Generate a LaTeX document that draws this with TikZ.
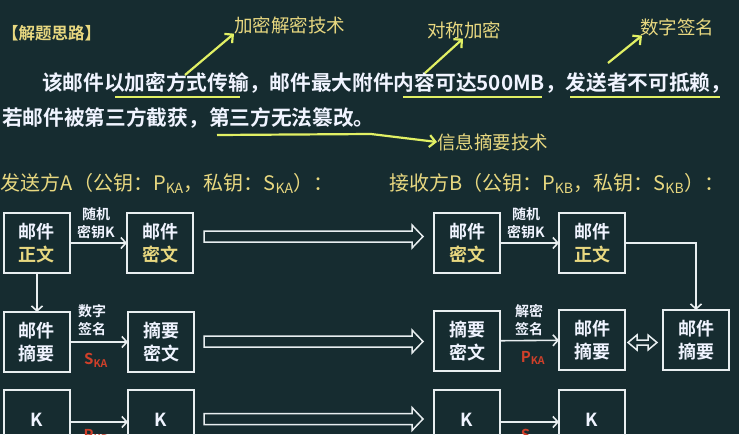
\documentclass[tikz,border=0pt]{standalone}
\usepackage{fontspec}
\setmainfont{Noto Sans CJK SC}[BoldFont={* Bold}]
\usetikzlibrary{arrows.meta}

\definecolor{bg}{RGB}{22,44,48}
\definecolor{txtw}{RGB}{240,244,255}
\definecolor{txty}{RGB}{232,216,128}
\definecolor{hl}{RGB}{225,240,100}
\definecolor{boxc}{RGB}{232,238,240}
\definecolor{keyred}{RGB}{208,64,42}

\newcommand\fsz[2]{\fontsize{#1}{#2}\selectfont}

\tikzset{
  every node/.style={inner sep=0pt, outer sep=0pt},
  mailbox/.style={draw=boxc, line width=1.8pt, minimum width=66, minimum height=60,
    align=center, text=txtw, font=\fsz{18}{23}\bfseries},
  flow/.style={draw=boxc, line width=1.6pt, -{Straight Barb[length=5pt,width=11pt,line width=1.6pt]}},
  tiny/.style={align=center, text=txtw, font=\fsz{14}{17.5}\bfseries},
  keylbl/.style={text=keyred, font=\fsz{15}{18}\bfseries},
  note/.style={anchor=west, text=txty, font=\fsz{18.5}{22}},
  hlline/.style={draw=hl, line width=2.2pt},
  pointer/.style={draw=hl, line width=2.2pt, -{Straight Barb[length=6pt,width=12pt,line width=2.2pt]}},
  hollow/.style={draw=boxc, line width=1.5pt, fill=bg, line join=miter},
}

\begin{document}
\begin{tikzpicture}[x=1pt,y=-1pt]
\fill[bg] (0,0) rectangle (739,434);
\useasboundingbox (0,0) rectangle (739,434);
\clip (0,0) rectangle (739,434);

% heading and question text
\node[anchor=west, text=txty, font=\fsz{16.5}{19}\bfseries] (head) at (2,33) {【解题思路】};
\node[anchor=west, text=txtw, font=\fsz{20.7}{26}\bfseries] (line1) at (42,83)
  {该邮件以加密方式传输，邮件最大附件内容可达500MB，发送者不可抵赖，};
\node[anchor=west, text=txtw, font=\fsz{20.7}{26}\bfseries] (line2) at (2,118)
  {若邮件被第三方截获，第三方无法篡改。};

% underlines and pointers to the techniques
\draw[hlline] (115,97) -- (240,97);
\draw[hlline] (403,97) -- (542,97);
\draw[hlline] (570,97) -- (720,97);

\node[note] (tech1) at (234,25) {加密解密技术};
\node[note] (tech2) at (427,30) {对称加密};
\node[note] (tech3) at (640,27) {数字签名};
\node[note] (tech4) at (437,142) {信息摘要技术};

\coordinate (p1) at (185,75);
\coordinate (p2) at (425,73);
\coordinate (p3) at (608,63);
\coordinate (u4a) at (217,135);
\coordinate (u4b) at (371,134);
\draw[pointer] (p1) -- (tech1.south west);
\draw[pointer] (p2) -- ([xshift=36]tech2.south west);
\draw[pointer] (p3) -- ([xshift=2]tech3.south west);
\draw[pointer] (u4a) -- (u4b) -- (tech4.west);

% party headings
\node[anchor=west, text=txty, font=\fsz{20}{23}] (sender) at (1,183)
  {发送方A（公钥：P\textsubscript{KA}，私钥：S\textsubscript{KA}）：};
\node[anchor=west, text=txty, font=\fsz{20}{23}] (receiver) at (389,183)
  {接收方B（公钥：P\textsubscript{KB}，私钥：S\textsubscript{KB}）：};

% sender side
\node[mailbox] (A1) at (37,243) {邮件\\\textcolor{txty}{正文}};
\node[mailbox] (A2) at (160,243) {邮件\\\textcolor{txty}{密文}};
\node[mailbox] (A3) at (37,342) {邮件\\摘要};
\node[mailbox] (A4) at (161,342) {摘要\\密文};
\node[mailbox] (A5) at (37,420) {K};
\node[mailbox] (A6) at (161,420) {K};

% receiver side
\node[mailbox] (B1) at (467,243) {邮件\\\textcolor{txty}{密文}};
\node[mailbox] (B2) at (592,243) {邮件\\\textcolor{txty}{正文}};
\node[mailbox] (B4) at (467,341) {摘要\\密文};
\node[mailbox] (B5) at (592,340) {邮件\\摘要};
\node[mailbox] (B3) at (696,340) {邮件\\摘要};
\node[mailbox] (B6) at (467,420) {K};
\node[mailbox] (B7) at (592,420) {K};

% flows
\draw[flow] (A1) -- (A2);
\draw[flow] (A1) -- (A3);
\draw[flow] (A3) -- (A4);
\draw[flow] ([yshift=-2]A5.east) -- ([yshift=-2]A6.west);
\draw[flow] (B1) -- (B2);
\draw[flow] (B4) -- (B5);
\draw[flow] ([yshift=-2]B6.east) -- ([yshift=-2]B7.west);
\draw[flow] (B2.east) -| (B3.north);

% flow labels
\node[tiny] (k1) at (96,223) {随机\\密钥K};
\node[tiny] (k2) at (526,223) {随机\\密钥K};
\node[tiny] (s1) at (92,320) {数字\\签名};
\node[tiny] (s2) at (529,320) {解密\\签名};
\node[keylbl] (r1) at (96,360) {S\textsubscript{KA}};
\node[keylbl] (r2) at (533,358) {P\textsubscript{KA}};
\node[keylbl] (r3) at (96,436) {P\textsubscript{KB}};
\node[keylbl] (r4) at (533,436) {S\textsubscript{KB}};

% transmission arrows between sender and receiver
\foreach \yc in {236.5,341.5,419} {
  \draw[hollow] (204,\yc-5.5) -- (412,\yc-5.5) -- (412,\yc-11.5) -- (423,\yc)
    -- (412,\yc+11.5) -- (412,\yc+5.5) -- (204,\yc+5.5) -- cycle;
}

% comparison of the two digests
\draw[hollow] (628,342.5) -- (637,335) -- (637,340) -- (648,340) -- (648,335)
  -- (657,342.5) -- (648,350) -- (648,345) -- (637,345) -- (637,350) -- cycle;
\end{tikzpicture}
\end{document}
